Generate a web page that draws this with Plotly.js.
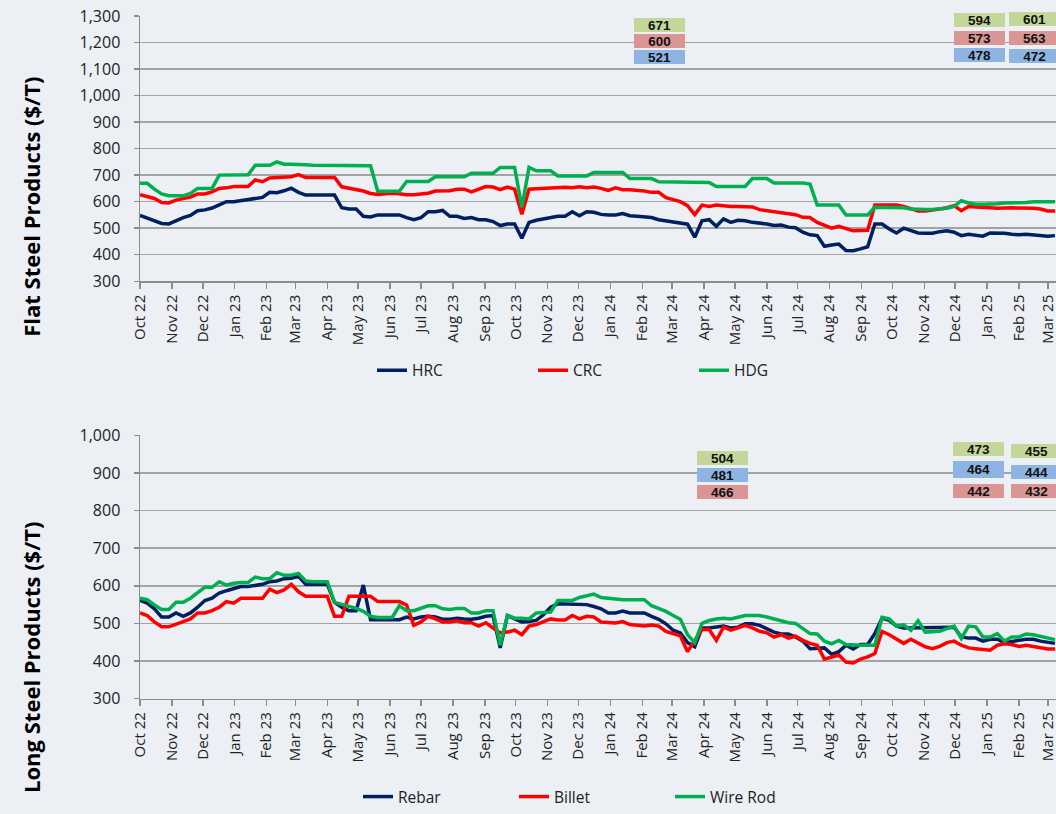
<!DOCTYPE html>
<html>
<head>
<meta charset="utf-8">
<script src="https://cdn.plot.ly/plotly-3.0.1.min.js"></script>
<style>html,body{margin:0;padding:0;background:#ECEFF4;}#chart{width:1056px;height:814px;}</style>
</head>
<body>
<div id="chart"></div>
<script>
// Weekly observation dates
const dates = [
'2022-10-01','2022-10-08','2022-10-15','2022-10-22','2022-10-29','2022-11-05','2022-11-12','2022-11-19','2022-11-26','2022-12-03','2022-12-10','2022-12-17','2022-12-24','2022-12-31',
'2023-01-07','2023-01-14','2023-01-21','2023-01-28','2023-02-04','2023-02-11','2023-02-18','2023-02-25','2023-03-04','2023-03-11','2023-03-18','2023-03-25',
'2023-04-01','2023-04-08','2023-04-15','2023-04-22','2023-04-29','2023-05-06','2023-05-13','2023-05-20','2023-05-27','2023-06-03','2023-06-10','2023-06-17','2023-06-24',
'2023-07-01','2023-07-08','2023-07-15','2023-07-22','2023-07-29','2023-08-05','2023-08-12','2023-08-19','2023-08-26','2023-09-02','2023-09-09','2023-09-16','2023-09-23','2023-09-30',
'2023-10-07','2023-10-14','2023-10-21','2023-10-28','2023-11-04','2023-11-11','2023-11-18','2023-11-25','2023-12-02','2023-12-09','2023-12-16','2023-12-23','2023-12-30',
'2024-01-06','2024-01-13','2024-01-20','2024-01-27','2024-02-03','2024-02-10','2024-02-17','2024-02-24','2024-03-02','2024-03-09','2024-03-16','2024-03-23','2024-03-30',
'2024-04-06','2024-04-13','2024-04-20','2024-04-27','2024-05-04','2024-05-11','2024-05-18','2024-05-25','2024-06-01','2024-06-08','2024-06-15','2024-06-22','2024-06-29',
'2024-07-06','2024-07-13','2024-07-20','2024-07-27','2024-08-03','2024-08-10','2024-08-17','2024-08-24','2024-08-31','2024-09-07','2024-09-14','2024-09-21','2024-09-28',
'2024-10-05','2024-10-12','2024-10-19','2024-10-26','2024-11-02','2024-11-09','2024-11-16','2024-11-23','2024-11-30','2024-12-07','2024-12-14','2024-12-21','2024-12-28',
'2025-01-04','2025-01-11','2025-01-18','2025-01-25','2025-02-01','2025-02-08','2025-02-15','2025-02-22','2025-03-01','2025-03-08'
];

// Flat steel products ($/T)
const hrc = [
548,539,528,518,516,528,540,548,566,569,
576,588,600,600,604,605,612,616,635,634,
641,651,635,625,625,625,625,625,577,572,
572,545,542,550,550,550,550,540,532,540,
562,562,567,545,545,537,540,532,532,525,
510,516,516,462,522,530,535,542,545,545,
562,547,562,560,552,550,550,555,547,545,
541,540,532,528,524,520,515,466,528,532,
507,535,522,530,528,522,520,516,510,512,
504,502,485,475,472,432,437,440,416,415,
422,430,516,516,497,482,500,490,482,481,
481,487,490,485,472,477,475,470,482,482,
481,477,475,477,475,472,470,472
];
const crc = [
626,619,612,597,595,606,610,617,629,629,
637,650,652,657,657,657,682,675,689,691,
694,694,702,691,691,691,691,691,656,650,
647,640,631,627,630,632,630,626,626,629,
632,640,642,641,647,647,637,647,657,655,
645,655,647,552,647,649,651,651,652,654,
652,656,652,655,650,642,652,645,645,644,
640,635,635,615,607,600,585,551,587,582,
587,584,582,582,582,580,570,566,562,560,
554,551,541,540,522,510,500,507,500,490,
491,492,587,587,587,587,582,575,565,565,
567,572,577,585,566,582,580,577,577,575,
577,577,576,576,575,572,565,565
];
const hdg = [
669,669,647,629,622,622,622,631,650,650,
650,700,701,701,701,701,737,737,737,750,
741,741,741,739,737,737,737,736,735,735,
735,735,735,639,639,639,639,676,676,676,
676,694,694,694,694,694,707,707,707,707,
729,729,729,579,729,716,716,716,697,697,
697,697,697,710,710,710,710,710,687,687,
687,687,675,675,675,675,675,675,675,672,
657,657,657,657,657,687,687,687,670,670,
670,670,670,666,587,587,587,587,550,550,
550,550,579,579,579,579,577,572,570,570,
570,572,575,582,604,595,590,590,590,592,
595,595,595,597,600,600,600,600
];

// Long steel products ($/T)
const rebar = [
561,554,539,517,517,528,519,528,543,561,
567,581,587,593,598,598,602,604,611,613,
619,620,625,604,604,604,604,556,543,534,
534,602,510,510,510,510,510,517,512,517,
519,517,511,511,514,512,511,514,519,521,
435,521,512,504,505,508,523,543,552,552,
552,552,550,545,539,528,528,533,528,528,
528,519,511,499,482,475,449,438,488,488,
490,493,488,490,499,499,495,486,477,472,
472,464,453,433,433,435,418,425,442,432,
444,444,473,514,508,493,488,488,488,488,
488,488,490,490,464,461,461,453,458,458,
449,453,455,458,458,453,449,447
];
const billet = [
528,521,504,491,491,499,505,512,528,528,
534,543,558,554,567,567,567,567,591,582,
589,604,584,572,572,572,572,519,519,572,
572,572,572,558,558,558,558,549,495,504,
519,512,504,504,507,502,502,493,502,488,
475,477,482,470,493,497,504,512,509,509,
521,512,519,517,504,502,501,505,497,495,
493,496,493,479,472,467,425,455,484,484,
455,490,482,488,495,488,479,475,464,470,
461,466,455,447,442,405,411,416,397,395,
405,411,420,479,470,458,447,458,447,438,
433,439,449,453,442,435,433,432,429,442,
446,444,439,442,439,437,432,432
];
const wireRod = [
567,563,549,537,537,556,556,567,582,596,
596,611,602,607,609,609,623,619,619,635,
628,628,633,613,611,611,611,556,551,547,
540,532,519,516,516,516,547,534,534,540,
547,547,539,537,540,540,528,528,534,534,
442,521,514,514,512,528,528,530,561,561,
561,569,574,578,569,567,563,563,563,563,
563,547,539,532,521,511,470,449,500,508,
512,514,512,517,521,521,521,517,512,508,
502,500,486,473,472,453,446,455,444,442,
442,442,442,516,512,493,496,482,507,477,
477,479,486,493,460,493,491,464,464,473,
453,464,464,472,470,466,460,457
];

// Callout boxes (label text)
const flatCallouts = [["671","600","521"],["594","573","478"],["601","563","472"]];
const longCallouts = [["504","481","466"],["473","464","442"],["455","444","432"]];

const NAVY = '#002060', RED = '#FF0000', GREEN = '#00B050';
const GBOX = '#C4D79B', RBOX = '#DA9694', BBOX = '#8DB4E2';
const FONT = 'Open Sans, Noto Sans, sans-serif';

function tr(y, name, color, xa, ya, leg) {
  return {x: dates, y: y, name: name, type: 'scatter', mode: 'lines',
    line: {color: color, width: 3.5}, xaxis: xa, yaxis: ya, legend: leg};
}
const data = [
  tr(hrc, 'HRC', NAVY, 'x', 'y', 'legend'),
  tr(crc, 'CRC', RED, 'x', 'y', 'legend'),
  tr(hdg, 'HDG', GREEN, 'x', 'y', 'legend'),
  tr(rebar, 'Rebar', NAVY, 'x2', 'y2', 'legend2'),
  tr(billet, 'Billet', RED, 'x2', 'y2', 'legend2'),
  tr(wireRod, 'Wire Rod', GREEN, 'x2', 'y2', 'legend2')
];

const W = 1056, H = 814, L = 140;
const px = v => (v - L) / (W - L);
const py = v => 1 - v / H;

function xax(anchor) {
  return {type: 'date', anchor: anchor, range: ['2022-10-01', '2025-03-09'],
    tick0: '2022-10-01', dtick: 'M1', tickformat: '%b %y', tickangle: -90,
    ticks: 'outside', ticklen: 6, tickcolor: '#8C8C8C', tickwidth: 1.5,
    showline: true, linecolor: '#8C8C8C', linewidth: 1.5, showgrid: false,
    ticklabeloverflow: 'allow',
    tickfont: {family: FONT, size: 15, color: '#222'}, fixedrange: true};
}
function yax(range, domain, anchor) {
  return {range: range, domain: domain, anchor: anchor, dtick: 100, tickformat: ',d',
    ticks: 'outside', ticklen: 5, tickcolor: '#8C8C8C', tickwidth: 1.5,
    showline: true, linecolor: '#8C8C8C', linewidth: 1.5,
    showgrid: true, gridcolor: '#A3A3A3', gridwidth: 1.5, zeroline: false,
    ticklabelstandoff: 10,
    tickfont: {family: FONT, size: 16, color: '#222'}, fixedrange: true};
}

const annotations = [];
function box(text, cx, cy, bg, w, h) {
  annotations.push({text: '<b>' + text + '</b>', xref: 'paper', yref: 'paper',
    x: px(cx), y: py(cy), xanchor: 'center', yanchor: 'middle', showarrow: false,
    bgcolor: bg, width: w, height: h, borderpad: 0, borderwidth: 0,
    font: {family: 'Liberation Sans, Arial, sans-serif', size: 13.5, color: '#111'}});
}
const flatPos = [[659, [25.5, 41, 57.5]], [979, [20, 38, 55]], [1034, [19, 38, 56]]];
const flatCols = [GBOX, RBOX, BBOX];
flatCallouts.forEach((col, i) => col.forEach((t, j) => box(t, flatPos[i][0], flatPos[i][1][j], flatCols[j], 51, 14)));
const longPos = [[722, [461, 477.5, 495]], [978, [451.5, 472.5, 494]], [1036, [453.5, 475, 494.5]]];
const longCols = [GBOX, BBOX, RBOX];
longCallouts.forEach((col, i) => col.forEach((t, j) => box(t, longPos[i][0], longPos[i][1][j], longCols[j], 51, (i === 1 && j === 1) ? 17 : 14)));

annotations.push({text: '<b>Flat Steel Products ($/T)</b>', xref: 'paper', yref: 'paper',
  x: px(31), y: py(208), textangle: -90, showarrow: false, xanchor: 'center', yanchor: 'middle',
  font: {family: FONT, size: 22, color: '#000'}});
annotations.push({text: '<b>Long Steel Products ($/T)</b>', xref: 'paper', yref: 'paper',
  x: px(31), y: py(662), textangle: -90, showarrow: false, xanchor: 'center', yanchor: 'middle',
  font: {family: FONT, size: 22, color: '#000'}});

const layout = {
  width: W, height: H,
  margin: {l: L, r: 0, t: 0, b: 0},
  paper_bgcolor: '#ECEFF4', plot_bgcolor: '#ECEFF4',
  font: {family: FONT, color: '#222'},
  xaxis: xax('y'),
  yaxis: yax([300, 1300], [py(283), py(16)], 'x'),
  xaxis2: xax('y2'),
  yaxis2: yax([300, 1000], [py(703), py(438)], 'x2'),
  showlegend: true,
  legend: {orientation: 'h', x: px(372), xanchor: 'left', y: py(373), yanchor: 'middle',
    entrywidth: 116, entrywidthmode: 'pixels', bgcolor: 'rgba(0,0,0,0)',
    font: {family: FONT, size: 15.5, color: '#222'}, itemclick: false},
  legend2: {orientation: 'h', x: px(358), xanchor: 'left', y: py(802), yanchor: 'middle',
    entrywidth: 111, entrywidthmode: 'pixels', bgcolor: 'rgba(0,0,0,0)',
    font: {family: FONT, size: 15.5, color: '#222'}, itemclick: false},
  annotations: annotations
};

Plotly.newPlot('chart', data, layout, {displayModeBar: false, staticPlot: true});
</script>
</body>
</html>
